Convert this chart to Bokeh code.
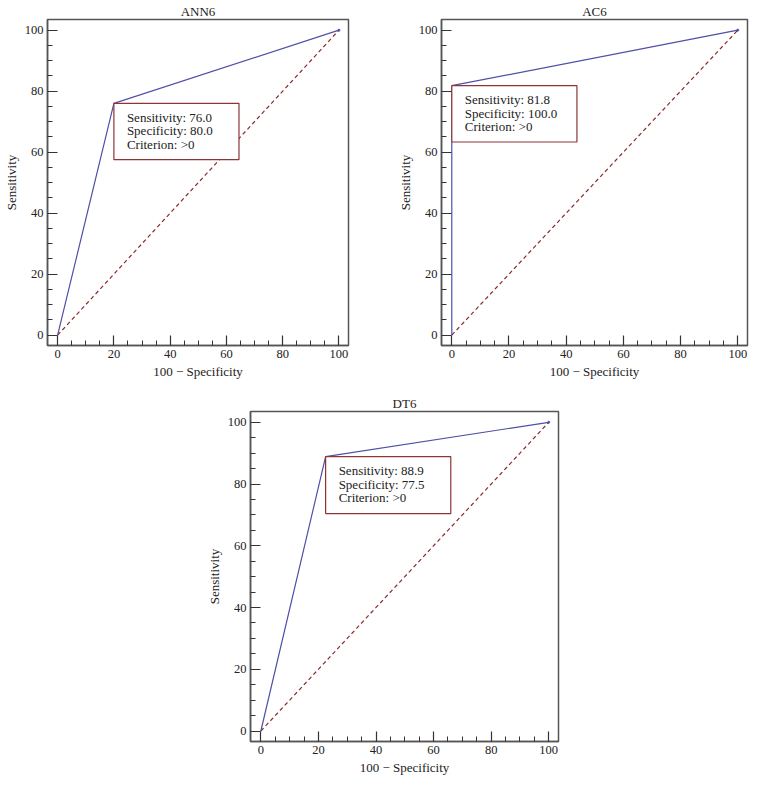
from bokeh.plotting import figure
from bokeh.layouts import column, row, Spacer
from bokeh.models import Range1d, FixedTicker
from bokeh.core.properties import value
from bokeh.embed import file_html
from bokeh.resources import INLINE

# ---- data ----
titles = ["ANN6", "AC6", "DT6"]
roc_fpr = [[0, 20.0, 100], [0, 0.0, 100], [0, 22.5, 100]]
roc_tpr = [[0, 76.0, 100], [0, 81.8, 100], [0, 88.9, 100]]
sensitivity = [76.0, 81.8, 88.9]
specificity = [80.0, 100.0, 77.5]
criterion = [">0", ">0", ">0"]
major_ticks = [0, 20, 40, 60, 80, 100]
minor_ticks = [v for v in range(0, 101, 5) if v % 20 != 0]

FONT = "Liberation Serif"
ROC_COLOR = "#4f4fa8"
DIAG_COLOR = "#8b2a2a"
BOX_COLOR = "#8b3535"
AX_COLOR = "#555555"

X0, X1 = -3.6, 103.4
Y0, Y1 = -3.4, 103.5


def make_panel(i, w, h, bl, br, bt, bb):
    fw = w - bl - br
    fh = h - bt - bb
    p = figure(output_backend="svg", toolbar_location=None,
               width=w, height=h,
               x_range=Range1d(X0, X1), y_range=Range1d(Y0, Y1),
               min_border_left=bl, min_border_right=br,
               min_border_top=bt, min_border_bottom=bb,
               title=titles[i])
    p.title.align = "center"
    p.title.text_font = FONT
    p.title.text_font_size = "13px"
    p.title.text_font_style = "normal"
    p.title.text_color = "#222222"
    p.title.standoff = 2
    p.title.offset = 0
    p.grid.visible = False
    p.outline_line_color = AX_COLOR
    p.outline_line_width = 1.5
    p.background_fill_color = "white"
    p.border_fill_color = "white"

    p.xaxis.axis_label = "100 \u2212 Specificity"
    p.yaxis.axis_label = "Sensitivity"
    for ax in (p.xaxis[0], p.yaxis[0]):
        ax.ticker = FixedTicker(ticks=major_ticks, minor_ticks=minor_ticks)
        ax.axis_line_color = AX_COLOR
        ax.axis_line_width = 1.5
        ax.major_tick_in = 10
        ax.major_tick_out = 0
        ax.minor_tick_in = 5
        ax.minor_tick_out = 0
        ax.major_tick_line_color = "#333333"
        ax.minor_tick_line_color = "#333333"
        ax.major_tick_line_width = 1.2
        ax.minor_tick_line_width = 1
        ax.major_label_text_font = FONT
        ax.major_label_text_font_size = "12.5px"
        ax.major_label_text_color = "#222222"
        ax.major_label_standoff = 4
        ax.axis_label_text_font = FONT
        ax.axis_label_text_font_size = "13px"
        ax.axis_label_text_font_style = "normal"
        ax.axis_label_text_color = "#222222"
        ax.axis_label_standoff = 3

    # chance diagonal
    p.line([0, 100], [0, 100], line_color=DIAG_COLOR, line_width=1.2,
           line_dash="4 3")
    # ROC curve
    p.line(roc_fpr[i], roc_tpr[i], line_color=ROC_COLOR, line_width=1.2)
    p.scatter([roc_fpr[i][-1]], [roc_tpr[i][-1]], size=2,
              color=ROC_COLOR)

    # annotation box at the criterion point
    cx = 100 - specificity[i]
    cy = sensitivity[i]
    sx = fw / (X1 - X0)
    sy = fh / (Y1 - Y0)
    bw, bh = 128, 57
    p.quad(left=[cx], right=[cx + bw / sx], top=[cy], bottom=[cy - bh / sy],
           fill_color="white", line_color=BOX_COLOR, line_width=1.2)
    lines = [f"Sensitivity: {sensitivity[i]:.1f}",
             f"Specificity: {specificity[i]:.1f}",
             f"Criterion: {criterion[i]}"]
    for k, t in enumerate(lines):
        p.text(x=[cx], y=[cy], text=[t], x_offset=13, y_offset=14 + 13.5 * k,
               text_align="left", text_baseline="middle",
               text_font=value(FONT), text_font_size="13px",
               text_color="#222222")
    return p


p1 = make_panel(0, 394, 390, 40, 46, 15, 45)
p2 = make_panel(1, 356, 390, 40, 3, 15, 45)
p3 = make_panel(2, 365, 388, 40, 10, 21, 37)

layout = column(row(p1, p2), row(Spacer(width=203, height=10), p3))

open("out.html", "w").write(file_html(layout, INLINE))
